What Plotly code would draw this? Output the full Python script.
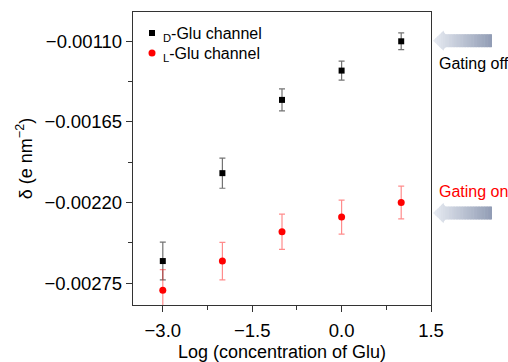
import plotly.graph_objects as go

log_conc = [-3.0, -2.0, -1.0, 0.0, 1.0]
d_glu = [-0.00260, -0.00200, -0.00150, -0.00130, -0.00110]
d_err = [0.000129, 0.000103, 0.000075, 0.000065, 0.000057]
l_glu = [-0.00280, -0.00260, -0.00240, -0.00230, -0.00220]
l_err = [0.000141, 0.000128, 0.000120, 0.000116, 0.000112]
series_names = ["<sub>D</sub>-Glu channel", "<sub>L</sub>-Glu channel"]

W, H = 508, 362
L, R, T, B = 133, 431, 12, 305
FONT = "Liberation Sans, Arial, Helvetica, sans-serif"

fig = go.Figure()
fig.add_trace(go.Scatter(
    x=log_conc, y=d_glu, mode="markers", name=series_names[0],
    marker=dict(symbol="square", size=6, color="black"),
    error_y=dict(type="data", array=d_err, visible=True, color="rgba(90,90,90,0.85)",
                 thickness=1.2, width=3),
))
fig.add_trace(go.Scatter(
    x=log_conc, y=l_glu, mode="markers", name=series_names[1],
    marker=dict(symbol="circle", size=7, color="#ff0000"),
    error_y=dict(type="data", array=l_err, visible=True, color="rgba(255,0,0,0.45)",
                 thickness=1.2, width=3),
))

def px2paper(px, py):
    return (px - L) / (R - L), (B - py) / (B - T)

def arrow_shapes(cy, tip=433, back=445, end=492, hh=11.5, bh=6.5, n=30):
    shapes = []
    c0 = (232, 236, 243)
    c1 = (145, 156, 180)
    def half(x):
        if x < back:
            return (x - tip) / (back - tip) * hh
        return bh
    xs = []
    nh = 6
    for i in range(nh + 1):
        xs.append(tip + (back - tip) * i / nh)
    for i in range(1, n + 1):
        xs.append(back + (end - back) * i / n)
    for i in range(len(xs) - 1):
        a, b = xs[i], xs[i + 1]
        t = ((a + b) / 2 - tip) / (end - tip)
        col = tuple(int(round(c0[k] + (c1[k] - c0[k]) * t)) for k in range(3))
        b2 = min(b + 0.6, end)
        if b <= back:
            ha, hb = half(a), (half(b2) if b2 <= back else half(b))
        else:
            ha, hb = bh, bh
        pts = [(a, cy - ha), (b2, cy - hb), (b2, cy + hb), (a, cy + ha)]
        pp = [px2paper(*p) for p in pts]
        path = "M " + " L ".join(f"{x:.5f},{y:.5f}" for x, y in pp) + " Z"
        shapes.append(dict(type="path", xref="paper", yref="paper", path=path,
                           fillcolor=f"rgb{col}", line=dict(width=0), layer="above"))
    return shapes

shapes = arrow_shapes(40.7) + arrow_shapes(213)

def box(cx, cy, s):
    x0, y0 = px2paper(cx - s / 2, cy + s / 2)
    x1, y1 = px2paper(cx + s / 2, cy - s / 2)
    return x0, y0, x1, y1

x0, y0, x1, y1 = box(152, 33, 6)
shapes.append(dict(type="rect", xref="paper", yref="paper", x0=x0, y0=y0, x1=x1, y1=y1,
                   fillcolor="black", line=dict(width=0)))
x0, y0, x1, y1 = box(152, 53, 7)
shapes.append(dict(type="circle", xref="paper", yref="paper", x0=x0, y0=y0, x1=x1, y1=y1,
                   fillcolor="#ff0000", line=dict(width=0)))

ax_common = dict(showline=True, linecolor="#333333", linewidth=1.3, mirror=True,
                 ticks="outside", ticklen=6, tickwidth=1, tickcolor="#333333",
                 showgrid=False, zeroline=False, automargin=False,
                 tickfont=dict(family=FONT, size=18.5, color="black"))

annotations = [
    dict(text="Gating off", xref="paper", yref="paper",
         x=px2paper(437, 0)[0], y=px2paper(0, 64)[1], xanchor="left", yanchor="middle",
         showarrow=False, font=dict(family=FONT, size=16, color="black")),
    dict(text="Gating on", xref="paper", yref="paper",
         x=px2paper(437, 0)[0], y=px2paper(0, 191)[1], xanchor="left", yanchor="middle",
         showarrow=False, font=dict(family=FONT, size=16, color="#ff0000")),
]
for name, cy in zip(series_names, [33, 53]):
    annotations.append(dict(text=name, xref="paper", yref="paper",
                            x=px2paper(161, 0)[0], y=px2paper(0, cy - 10)[1],
                            xanchor="left", yanchor="top", showarrow=False,
                            font=dict(family=FONT, size=16, color="black")))

fig.update_layout(
    width=W, height=H,
    margin=dict(l=L, r=W - R, t=T, b=H - B),
    paper_bgcolor="white", plot_bgcolor="white",
    font=dict(family=FONT, color="black"),
    showlegend=False,
    xaxis=dict(range=[-3.5, 1.5], tickmode="linear", tick0=-3.0, dtick=1.5,
               tickformat=".1f", ticklabelstandoff=3,
               minor=dict(dtick=0.75, tick0=-3.0, ticks="outside", ticklen=4, tickcolor="#333333"),
               title=dict(text="Log (concentration of Glu)", font=dict(family=FONT, size=18), standoff=12),
               **ax_common),
    yaxis=dict(range=[-0.0029, -0.0009], tickmode="linear", tick0=-0.00275, dtick=0.00055,
               tickformat=".5f",
               minor=dict(dtick=0.000275, tick0=-0.00275, ticks="outside", ticklen=4, tickcolor="#333333"),
               title=dict(text="δ (e nm<sup>−2</sup>)", font=dict(family=FONT, size=18), standoff=7),
               **ax_common),
    shapes=shapes,
    annotations=annotations,
)

fig.write_html("out.html", config={"displayModeBar": False},
               post_script="document.body.style.margin='0';")
